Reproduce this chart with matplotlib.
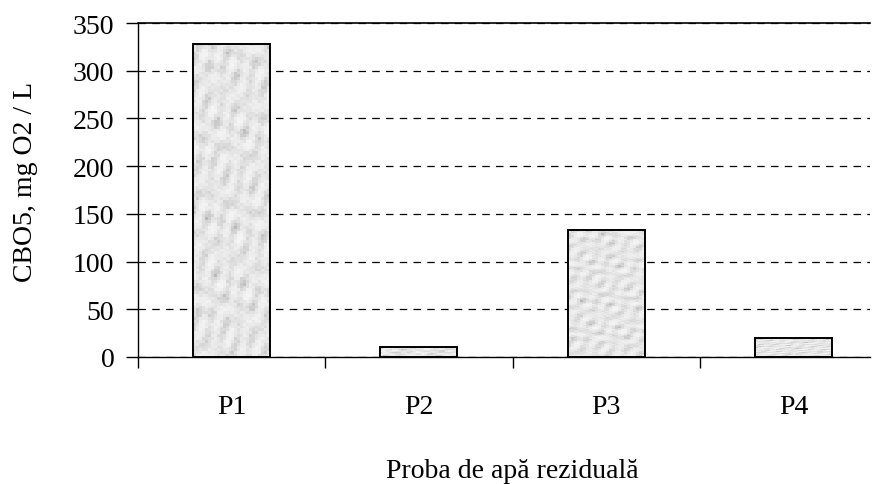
import numpy as np
import matplotlib
matplotlib.use("Agg")
import matplotlib.pyplot as plt

plt.rcParams['font.family'] = ['Liberation Serif', 'DejaVu Serif']

samples = ["P1", "P2", "P3", "P4"]
cbo5 = [328, 10, 133, 20]
yticks = [0, 50, 100, 150, 200, 250, 300, 350]

fig = plt.figure(figsize=(8.75, 4.85), dpi=100)
W, H = 875, 485
# axes in pixel coords: left 138, right 870, bottom 358, top 24
ax = fig.add_axes([138 / W, (H - 358) / H, (870 - 138) / W, (358 - 24) / H])

x = np.arange(len(samples))
bars = ax.bar(x, cbo5, width=0.41, facecolor='none', edgecolor='black', linewidth=1.4, zorder=3)

# granite-like fill, built from a few sine waves (decoration only)
gx, gy = np.meshgrid(np.arange(26), np.arange(110))
tex = (np.sin(gx * 0.9 + gy * 0.37) * np.cos(gy * 0.23 - gx * 0.4)
       + np.sin(gx * 0.31 - gy * 0.83) * 0.7 * np.sin(gy * 0.11 + 1.3)
       + np.sin(gx * 1.7 + gy * 2.9) * 0.3 + np.sin(gy * 0.47 + gx * 1.1) * 0.5
       + np.cos(gx * 2.3 - gy * 1.9) * 0.25)
tex = (tex - tex.min()) / (tex.max() - tex.min())
tex = 0.96 - 0.24 * tex ** 2
for b in bars:
    x0, w, h = b.get_x(), b.get_width(), b.get_height()
    im = ax.imshow(tex, cmap='gray', vmin=0, vmax=1, extent=(x0, x0 + w, 0, h),
                   aspect='auto', interpolation='nearest', zorder=2)
    im.set_clip_path(b)

ax.set_xlim(-0.5, 3.5 - (887 - 870) / 187)
ax.set_ylim(0, 350)
ax.set_yticks(yticks)
ax.set_xticks(x)
ax.set_xticklabels(samples)
ax.set_xticks([-0.5, 0.5, 1.5, 2.5], minor=True)
ax.tick_params(axis='x', which='major', length=0, pad=27, labelsize=20)
ax.tick_params(axis='x', which='minor', length=8, width=1, direction='out')
ax.tick_params(axis='y', length=9, width=1, direction='out', pad=8, labelsize=20)

ax.yaxis.grid(True, linestyle=(0, (6, 5)), color='black', linewidth=0.9, zorder=1)
ax.set_axisbelow(True)
ax.axhline(350, color='black', linewidth=1.2, zorder=1, clip_on=False)

for s in ['top', 'right']:
    ax.spines[s].set_visible(False)
ax.spines['left'].set_linewidth(1)
ax.spines['bottom'].set_linewidth(1)

ax.set_ylabel("CBO5, mg O2 / L", fontsize=20, labelpad=25)
ax.set_xlabel("Proba de apă reziduală", fontsize=20, labelpad=28)
ax.yaxis.label.set_y((358 - 182) / (358 - 24))
ax.xaxis.label.set_x((512 - 138) / (870 - 138))

fig.savefig("out.png", dpi=100)
